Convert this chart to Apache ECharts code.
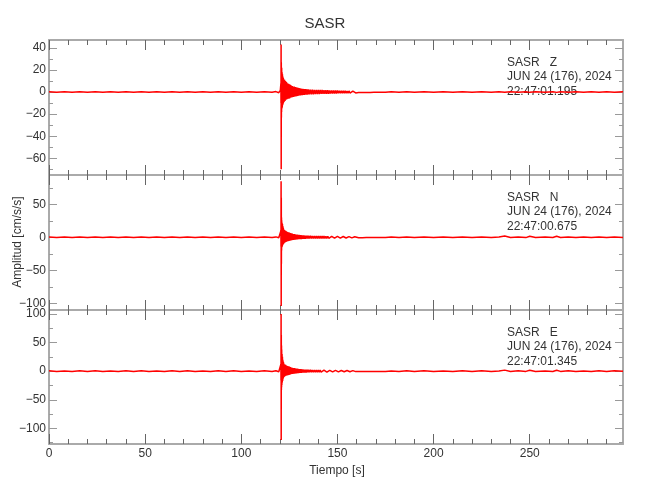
<!DOCTYPE html>
<html><head><meta charset="utf-8">
<script src="https://cdn.jsdelivr.net/npm/echarts@6/dist/echarts.min.js"></script>
<style>html,body{margin:0;padding:0;background:#fff}#c{width:650px;height:500px}</style>
</head><body><div id="c"></div>
<script>
// ---- data ----
const times = [
  0,4,8,12,16,20,24,28,32,36,40,44,48,52,56,60,64,68,72,76,80,84,88,92,96,100,104,108,112,116,118,119.5,120.3,
  120.6,120.65,120.7,120.75,120.8,120.85,120.9,120.95,121.0,121.1,121.2,121.3,121.4,121.5,121.6,121.7,121.8,121.9,122.0,
  122.25,122.5,122.75,123,123.25,123.5,123.75,124,124.25,124.5,
  124.75,125,125.25,125.5,125.75,126,126.25,126.5,126.75,127,
  127.25,127.5,127.75,128,128.25,128.5,128.75,129,129.25,129.5,
  129.75,130,130.25,130.5,130.75,131,131.25,131.5,131.75,132,
  132.25,132.5,132.75,133,133.25,133.5,133.75,134,134.25,134.5,
  134.75,135,
  135.5,136,136.5,137,137.5,138,138.5,139,139.5,140,
  140.5,141,141.5,142,142.5,143,143.5,144,144.5,145,
  145.5,146,146.5,147,147.5,148,148.5,149,149.5,150,
  150.5,151,151.5,152,152.5,153,153.5,154,154.5,155,
  155.5,156,156.5,157,157.5,158,158.5,159,159.5,160,
  161,162,163,164,165,166,167,168,169,170,171,172,173,174,175,
  178,182,186,190,195,200,205,210,215,220,225,230,234,237,240,244,248,250,253,258,262,264,266,270,274,278,282,286,290,294,298.5
];
const zVals = [
  0.3,-0.3,0.2,-0.3,0.3,-0.2,0.3,-0.3,0.2,-0.3,0.3,-0.2,0.3,-0.3,0.2,-0.3,0.3,-0.2,0.3,-0.3,0.2,-0.3,0.3,-0.2,0.3,-0.3,0.2,-0.3,0.3,-0.2,0.4,-0.6,1.5,
  8,-10,43,-70,27,-23,20,-18,22,-15,18,-14,16,-12,14,-11,13,-10,12,
  -9,11,-8,10,-7,9,-6.5,8,-6,7.5,
  -6,7,-5.5,6.5,-5,6,-5,5.5,-4.5,5,
  -4.5,5,-4,4.5,-4,4.2,-3.8,4,-3.6,3.8,
  -3.4,3.6,-3.2,3.4,-3,3.2,-2.9,3,-2.8,2.9,
  -2.7,2.8,-2.6,2.7,-2.5,2.6,-2.4,2.5,-2.3,2.4,
  -2.2,2.3,
  -2.2,2.2,-2.1,2.1,-2,2,-1.9,2,-1.9,1.9,
  -1.8,1.8,-1.7,1.8,-1.7,1.7,-1.6,1.6,-1.5,1.6,
  -1.5,1.5,-1.4,1.5,-1.4,1.4,-1.3,1.3,-1.3,1.3,
  -1.2,1.2,-1.2,1.2,-1.1,1.1,-1.1,1.1,-1,1,
  -1,1,-0.9,0.9,-0.9,0.9,-0.8,0.8,-0.8,0.8,
  -0.5,0.5,-0.5,0.4,-0.4,0.4,-0.4,0.3,-0.3,0.3,-0.3,0.3,-0.3,0.3,-0.3,
  0.3,-0.3,0.3,-0.3,0.3,-0.3,0.3,-0.3,0.3,-0.3,0.3,-0.3,0.3,-0.3,0.3,-0.3,0.3,-0.3,0.3,-0.3,0.3,-0.3,0.3,-0.3,0.3,-0.3,0.3,-0.3,0.3,-0.3,0.2
];
const nVals = [
  0.5,-0.4,0.4,-0.5,0.4,-0.4,0.5,-0.4,0.4,-0.5,0.4,-0.4,0.5,-0.4,0.4,-0.5,0.4,-0.4,0.5,-0.4,0.4,-0.5,0.4,-0.4,0.5,-0.4,0.4,-0.5,0.4,-0.4,0.6,-0.8,2,
  10,-14,85,-104,60,-40,30,-20,26,-15,22,-14,20,-12,17,-11,15,-10,13,
  -9,11,-8,10,-7,9,-6.5,8,-6,7.5,
  -5.5,7,-5,6.5,-4.8,6,-4.5,5.5,-4.2,5,
  -4,4.8,-3.8,4.5,-3.6,4.2,-3.4,4,-3.2,3.8,
  -3,3.6,-2.9,3.4,-2.8,3.2,-2.7,3,-2.6,2.9,
  -2.5,2.8,-2.4,2.7,-2.3,2.6,-2.2,2.5,-2.1,2.4,
  -2.1,2.3,
  -2,2.2,-2,2.1,-1.9,2,-1.9,1.9,-1.8,1.9,
  -1.8,1.8,-1.7,1.7,-1.7,1.7,-1.6,1.6,-1.6,1.6,
  -1.5,1.5,-1.5,1.5,-1.4,1.4,-1.4,1.4,-1.3,1.3,
  -1.3,1.3,-1.2,1.2,-1.2,1.2,-1.1,1.1,-1.1,1.1,
  -1,1,-1,1,-0.9,0.9,-0.9,0.9,-0.8,0.8,
  -0.6,0.6,-0.6,0.5,-0.5,0.5,-0.5,0.4,-0.4,0.4,-0.4,0.4,-0.4,0.4,-0.4,
  0.4,-0.4,0.5,-0.4,0.4,-0.5,0.4,-0.4,0.5,-0.4,0.4,-0.4,0.5,1.8,-0.4,0.4,-0.5,1.5,-0.4,0.4,-0.4,1.5,-0.4,0.5,-0.4,0.4,-0.5,0.4,-0.4,0.5,-0.3
];
const eVals = [
  0.5,-0.5,0.4,-0.5,0.5,-0.4,0.5,-0.5,0.4,-0.5,0.5,-0.4,0.5,-0.5,0.4,-0.5,0.5,-0.4,0.5,-0.5,0.4,-0.5,0.5,-0.4,0.5,-0.5,0.4,-0.5,0.5,-0.4,0.7,-0.9,2,
  12,-16,100,-120,63,-33,45,-28,38,-24,30,-20,25,-17,20,-14,17,-12,15,
  -10,12,-9,11,-8,10,-7.5,9,-7,8.5,
  -6.5,8,-6,7,-5.5,6.5,-5,6,-4.8,5.5,
  -4.5,5.2,-4.2,5,-4,4.6,-3.8,4.3,-3.6,4,
  -3.4,3.8,-3.2,3.6,-3,3.4,-2.9,3.2,-2.8,3,
  -2.7,2.9,-2.6,2.8,-2.5,2.7,-2.4,2.6,-2.3,2.5,
  -2.2,2.4,
  -2,2.2,-2,2.1,-1.9,2,-1.9,1.9,-1.8,1.9,
  -1.8,1.8,-1.7,1.7,-1.7,1.7,-1.6,1.6,-1.6,1.6,
  -1.5,1.5,-1.5,1.5,-1.4,1.4,-1.4,1.4,-1.3,1.3,
  -1.3,1.3,-1.2,1.2,-1.2,1.2,-1.1,1.1,-1.1,1.1,
  -1,1,-1,1,-0.9,0.9,-0.9,0.9,-0.8,0.8,
  -0.6,0.6,-0.6,0.5,-0.5,0.5,-0.5,0.4,-0.4,0.4,-0.4,0.4,-0.4,0.4,-0.4,
  0.4,-0.5,0.5,-0.4,0.5,-0.5,0.4,-0.5,0.5,-0.4,0.5,-0.5,0.4,1.8,-0.5,0.5,-0.4,1.5,-0.5,0.4,-0.5,1.5,-0.4,0.5,-0.5,0.4,-0.5,0.5,-0.4,0.5,-0.3
];
const xMajorTicks = [0,50,100,150,200,250];
const xMinorTicks = [10,20,30,40,60,70,80,90,110,120,130,140,160,170,180,190,210,220,230,240,260,270,280,290];
const yMajorTicks = [[-60,-40,-20,0,20,40],[-100,-50,0,50],[-100,-50,0,50,100]];
const yMinorTicks = [[-70,-50,-30,-10,10,30],[-75,-25,25,75],[-125,-75,-25,25,75]];
const yRanges = [[-75.1,47.1],[-110.2,94.4],[-127.2,106.8]];
const panelLabels = [
  'SASR   Z\nJUN 24 (176), 2024\n22:47:01.195',
  'SASR   N\nJUN 24 (176), 2024\n22:47:00.675',
  'SASR   E\nJUN 24 (176), 2024\n22:47:01.345'
];
const series = [zVals, nVals, eVals];

// ---- layout ----
const FONT = '"Liberation Sans", Arial, sans-serif';
const TXT = '#333333';
const AXC = '#aaaaaa';
const grids = [{top:40,height:135},{top:175,height:135},{top:310,height:134}];
const X_MAX = 298.5;

const option = {
  animation:false,
  backgroundColor:'#ffffff',
  title:{text:'SASR',left:'center',top:11,textStyle:{fontFamily:FONT,fontSize:15,fontWeight:'normal',color:TXT}},
  grid:grids.map(g=>({left:49,right:27,top:g.top,height:g.height,containLabel:false})),
  xAxis:[], yAxis:[], series:[],
  graphic:[]
};

grids.forEach((g,gi)=>{
  const xa = (pos, vals, len, line, label) => ({
    type:'value', gridIndex:gi, position:pos, min:0, max:X_MAX,
    axisLine:{show:line, onZero:false, lineStyle:{color:AXC,width:2}},
    axisTick:{show:true, inside:true, length:len, customValues:vals, lineStyle:{color:'#666666',width:1}},
    axisLabel:{show:label, customValues:xMajorTicks, margin:4, fontFamily:FONT, fontSize:12, color:TXT},
    splitLine:{show:false}
  });
  const isLast = gi===2;
  option.xAxis.push(xa('bottom', xMajorTicks, 10, true, isLast));
  option.xAxis.push(xa('bottom', xMinorTicks, 5, false, false));
  option.xAxis.push(xa('top', xMajorTicks, 10, true, false));
  option.xAxis.push(xa('top', xMinorTicks, 5, false, false));

  const ya = (pos, vals, len, line, label) => ({
    type:'value', gridIndex:gi, position:pos, min:yRanges[gi][0], max:yRanges[gi][1],
    axisLine:{show:line, onZero:false, lineStyle:{color:AXC,width:2}},
    axisTick:{show:true, inside:true, length:len, customValues:vals, lineStyle:{color:'#999999',width:1}},
    axisLabel:{show:label, customValues:yMajorTicks[gi], margin:3, fontFamily:FONT, fontSize:12, color:TXT,
      formatter:v=>String(v).replace('-','\u2212')},
    splitLine:{show:false}
  });
  option.yAxis.push(ya('left', yMajorTicks[gi], 8, true, true));
  option.yAxis.push(ya('left', yMinorTicks[gi], 4, false, false));
  option.yAxis.push(ya('right', yMajorTicks[gi], 8, true, false));
  option.yAxis.push(ya('right', yMinorTicks[gi], 4, false, false));

  option.series.push({
    type:'line', xAxisIndex:gi*4, yAxisIndex:gi*4,
    data:times.map((t,i)=>[t, series[gi][i]]),
    showSymbol:false, symbol:'none',
    lineStyle:{color:'#ff0000',width:1.5},
    z:1
  });

  option.graphic.push({
    type:'text', left:507, top:g.top+15,
    style:{text:panelLabels[gi], fontFamily:FONT, fontSize:12, lineHeight:14.5, fill:TXT}
  });
});

option.graphic.push({
  type:'text', x:337, y:471,
  style:{text:'Tiempo [s]', fontFamily:FONT, fontSize:12, fill:TXT, align:'center', verticalAlign:'middle'}
});
option.graphic.push({
  type:'text', x:18, y:242, rotation:Math.PI/2,
  style:{text:'Amplitud [cm/s/s]', fontFamily:FONT, fontSize:12, fill:TXT, align:'center', verticalAlign:'middle'}
});

const chart = echarts.init(document.getElementById('c'), null, {renderer:'canvas'});
chart.setOption(option);
</script>
</body></html>
